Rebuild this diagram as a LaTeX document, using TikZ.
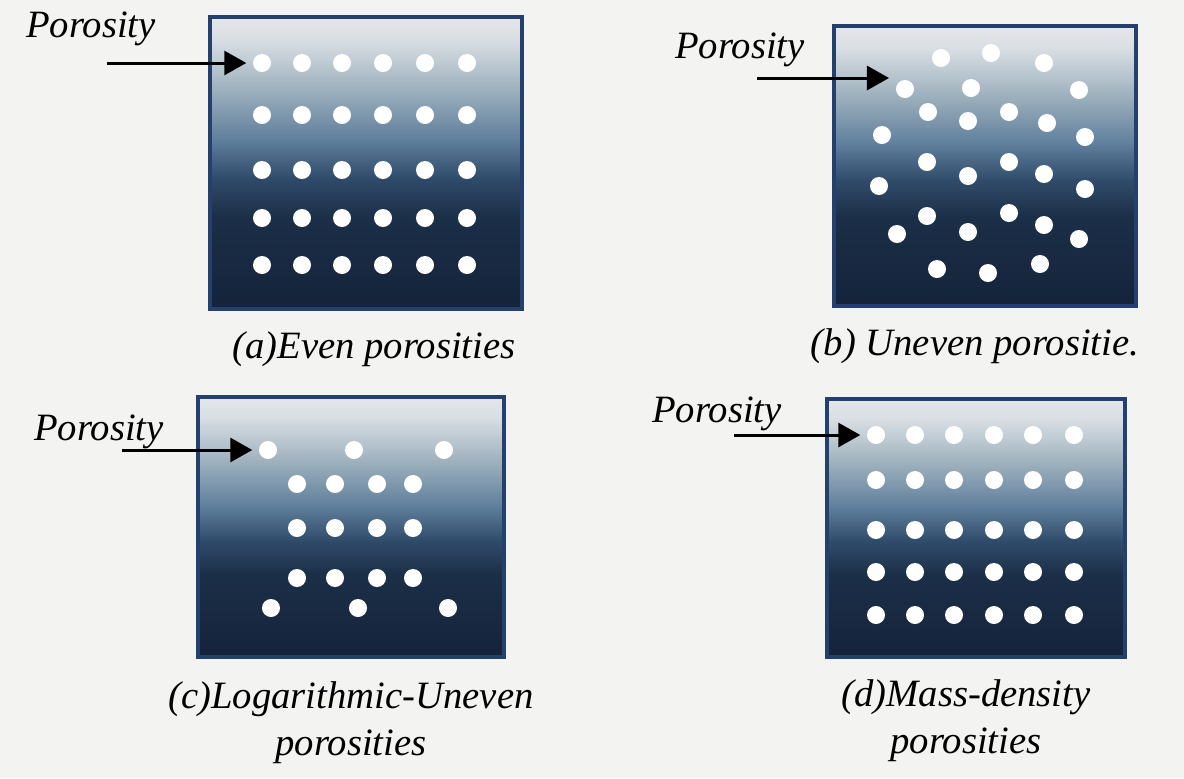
\documentclass[tikz,border=0pt]{standalone}
\usepackage{fontspec}
\setmainfont{Liberation Serif}
\usepackage{xcolor}
\usetikzlibrary{arrows.meta,positioning}
\definecolor{paper}{HTML}{F3F3F2}
\definecolor{boxlight}{HTML}{E4E7EA}
\definecolor{boxpale}{HTML}{D8DEE3}
\definecolor{boxgrey}{HTML}{9DB0BD}
\definecolor{boxmid}{HTML}{5F7F9C}
\definecolor{boxsteel}{HTML}{304C6B}
\definecolor{boxdark}{HTML}{1C2F48}
\definecolor{boxdeep}{HTML}{14233A}
\definecolor{boxedge}{HTML}{24406C}
\pgfdeclareverticalshading{poreshade}{100bp}{color(0bp)=(boxdeep); color(25bp)=(boxdeep);
  color(41bp)=(boxdark); color(47.5bp)=(boxsteel); color(54bp)=(boxmid); color(62.5bp)=(boxgrey);
  color(71bp)=(boxpale); color(75bp)=(boxlight); color(100bp)=(boxlight)}

\begin{document}
\begin{tikzpicture}[x=0.01cm,y=-0.01cm,font=\itshape\fontsize{11}{13.3}\selectfont]
  % porous plates, one unit = one pixel of the figure
  \tikzset{panel/.style={draw=boxedge,line width=1.1pt,shade,shading=poreshade,inner sep=0},
    pore/.style={circle,fill=white,minimum size=0.18cm,inner sep=0},
    porearrow/.style={line width=0.85pt,-{Triangle[length=0.22cm,width=0.24cm]}},
    caption/.style={inner sep=0,align=center}}
  \fill[paper] (0,0) rectangle (1184,778);

  % (a) even porosities
  \node[panel,minimum width=3.12cm,minimum height=2.92cm] (pa) at (366,163) {};
  \foreach[count=\i] \x in {262,302,342,383,425,467}
    \foreach[count=\j] \y in {63,115,170,218,265}
      \node[pore] (a\i\j) at (\x,\y) {};
  \node (la) at (91,29) {Porosity};
  \coordinate (ta) at (107,63);
  \draw[porearrow,shorten >=0.06cm] (ta) -- (a11);
  \node[caption,below=0.2cm of pa,xshift=0.08cm] (ca) {(a)Even porosities};

  % (b) uneven porosities
  \node[panel,minimum width=3.02cm,minimum height=2.79cm] (pb) at (985,166) {};
  \foreach[count=\k] \p in {(941,58),(991,53),(1044,63),(905,89),(971,88),(1079,90),
      (928,112),(968,121),(1009,112),(1047,123),(882,135),(1085,137),
      (927,162),(1009,162),(968,176),(1044,174),(879,186),(1085,189),
      (927,216),(1009,213),(968,232),(1044,225),(897,234),(1079,239),
      (937,269),(988,273),(1040,264)}
    \node[pore] (b\k) at \p {};
  \node (lb) at (740,50) {Porosity};
  \coordinate (tb) at (757,78);
  \coordinate (hb) at (889,78);
  \draw[porearrow] (tb) -- (hb);
  \node[caption,below=0.2cm of pb,xshift=-0.1cm] (cb) {(b) Uneven porositie.};

  % (c) logarithmic-uneven porosities
  \node[panel,minimum width=3.05cm,minimum height=2.6cm] (pc) at (351,527) {};
  \foreach[count=\k] \p in {(268,450),(354,450),(444,450),(271,608),(358,608),(448,608)}
    \node[pore] (c\k) at \p {};
  \foreach[count=\i] \x in {297,335,377,413}
    \foreach[count=\j] \y in {484,528,578}
      \node[pore] (c\i\j) at (\x,\y) {};
  \node (lc) at (99,432) {Porosity};
  \coordinate (tc) at (122,450);
  \draw[porearrow,shorten >=0.06cm] (tc) -- (c1);
  \node[caption,below=0.22cm of pc] (cc) {(c)Logarithmic-Uneven\\porosities};

  % (d) mass-density porosities
  \node[panel,minimum width=2.98cm,minimum height=2.58cm] (pd) at (976,528) {};
  \foreach[count=\i] \x in {876,915,954,994,1033,1074}
    \foreach[count=\j] \y in {435,480,530,572,615}
      \node[pore] (d\i\j) at (\x,\y) {};
  \node (ld) at (717,414) {Porosity};
  \coordinate (td) at (734,435);
  \draw[porearrow,shorten >=0.06cm] (td) -- (d11);
  \node[caption,below=0.2cm of pd,xshift=-0.1cm] (cd) {(d)Mass-density\\porosities};
\end{tikzpicture}
\end{document}
